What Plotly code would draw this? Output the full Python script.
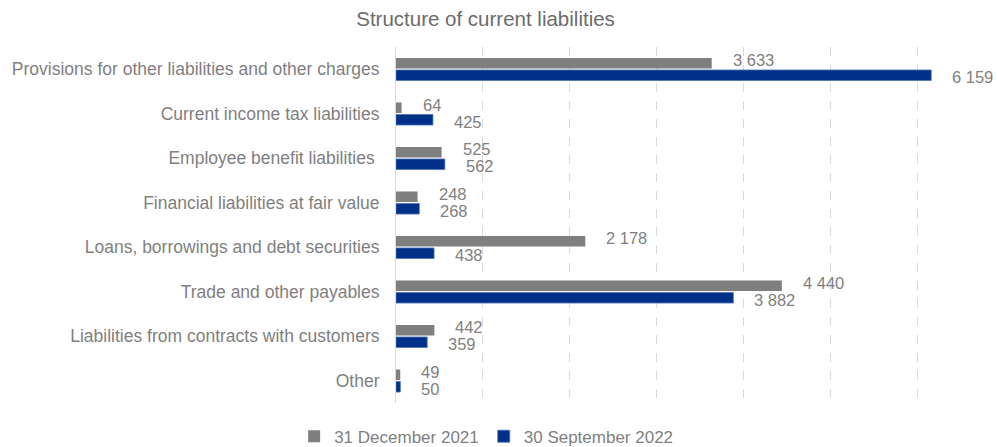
import plotly.graph_objects as go

categories = [
    "Provisions for other liabilities and other charges",
    "Current income tax liabilities",
    "Employee benefit liabilities\u00a0",
    "Financial liabilities at fair value",
    "Loans, borrowings and debt securities",
    "Trade and other payables",
    "Liabilities from contracts with customers",
    "Other",
]
dec_2021 = [3633, 64, 525, 248, 2178, 4440, 442, 49]
sep_2022 = [6159, 425, 562, 268, 438, 3882, 359, 50]
series_names = ["31 December 2021", "30 September 2022"]

GRAY = "#7f7f7f"
BLUE = "#003087"
TEXT = "#7f7f7f"
FONT = "Liberation Sans, Arial, sans-serif"


def fmt(v):
    return f"{v:,}".replace(",", "\u00a0")


fig = go.Figure()
fig.add_trace(go.Bar(y=categories, x=dec_2021, name=series_names[0], orientation="h",
                     marker=dict(color=GRAY, line=dict(width=0))))
fig.add_trace(go.Bar(y=categories, x=sep_2022, name=series_names[1], orientation="h",
                     marker=dict(color=BLUE, line=dict(color="#4f72b8", width=0.8))))

# value labels to the right of each bar, gray above / blue below the group centre
annotations = []
for cat, a, b in zip(categories, dec_2021, sep_2022):
    annotations.append(dict(x=a, y=cat, xref="x", yref="y", text=fmt(a), showarrow=False,
                            xanchor="left", yanchor="middle", xshift=19, yshift=9,
                            font=dict(size=16.5, color=TEXT, family=FONT)))
    annotations.append(dict(x=b, y=cat, xref="x", yref="y", text=fmt(b), showarrow=False,
                            xanchor="left", yanchor="middle", xshift=19, yshift=-8,
                            font=dict(size=16.5, color=TEXT, family=FONT)))

fig.update_layout(
    width=997, height=447,
    margin=dict(l=396, r=0, t=47, b=44, autoexpand=False),
    paper_bgcolor="white", plot_bgcolor="white",
    font=dict(family=FONT, color=TEXT),
    barmode="group", bargap=0.46, bargroupgap=0.12,
    title=dict(text="Structure of current liabilities", x=0.487, xanchor="center",
               y=1 - 19 / 447, yanchor="middle",
               font=dict(size=20.5, color="#6b6b6b", family=FONT)),
    showlegend=True,
    legend=dict(orientation="h", x=0.15, xanchor="center", y=-0.0945, yanchor="middle",
                font=dict(size=17, color=TEXT, family=FONT), itemwidth=30,
                traceorder="normal", bgcolor="rgba(0,0,0,0)"),
    annotations=annotations,
)
fig.update_xaxes(range=[0, 6916], dtick=1000, tick0=0, showticklabels=False,
                 showgrid=True, gridcolor="#d9d9d9", griddash="dash", gridwidth=1,
                 zeroline=False, showline=False, fixedrange=True)
fig.update_yaxes(autorange="reversed", showline=True, linecolor="#d9d9d9", linewidth=1,
                 ticks="", ticklabelstandoff=12, showgrid=False,
                 tickfont=dict(size=17.5, color=TEXT, family=FONT), fixedrange=True)

fig.write_html("out.html")
